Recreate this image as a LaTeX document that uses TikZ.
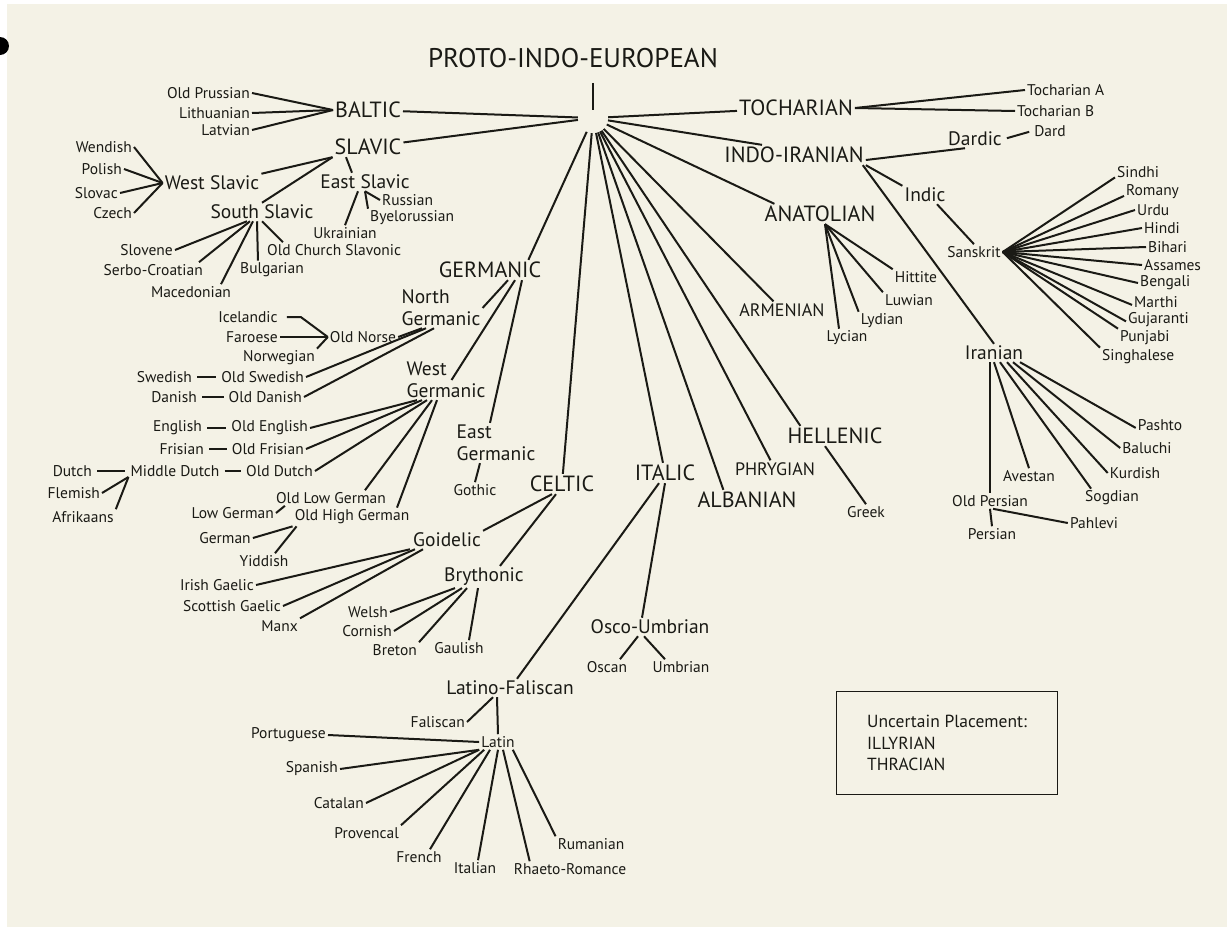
\documentclass[tikz,border=0pt]{standalone}
\usepackage{fontspec}
\setmainfont{PT Sans}
\definecolor{paper}{RGB}{244,242,230}
\definecolor{ink}{RGB}{26,26,21}

\begin{document}
\begin{tikzpicture}[x=1pt,y=-1pt,
 every node/.style={inner sep=2pt,text=ink},
 langlbl/.style={font=\fontsize{15.5}{21.5}\selectfont},
 sublbl/.style={font=\fontsize{19.5}{22}\selectfont,align=left},
 famlbl/.style={font=\fontsize{22}{24}\selectfont},
 minorlbl/.style={font=\fontsize{18}{20}\selectfont},
 branchline/.style={draw=ink,line width=2pt},
 dashlink/.style={branchline,shorten <=3pt,shorten >=3pt}]
 \useasboundingbox (0,0) rectangle (1227,927);
 \fill[paper] (0,0) rectangle (1227,927);
 \fill[white] (0,0) rectangle (7,927);
 \fill[white] (0,0) rectangle (1227,4);
 \fill[black] (0,46) circle (9);

 \node[font=\fontsize{27}{30}\selectfont] (pietitle) at (573,58) {PROTO-INDO-EUROPEAN};
 \node[circle,minimum size=30pt,inner sep=0pt] (pie) at (593,118) {};
 \draw[branchline,shorten <=13pt,shorten >=-7pt] (pie |- pietitle.south) -- (pie.north);

 \node[famlbl] (baltic) at (368,110) {BALTIC};
 \node[famlbl] (slavic) at (368,147) {SLAVIC};
 \node[famlbl] (tochar) at (796,108) {TOCHARIAN};
 \node[famlbl] (indoir) at (794,155) {INDO-IRANIAN};
 \node[famlbl] (anatol) at (820,214) {ANATOLIAN};
 \node[minorlbl] (armen) at (782,310) {ARMENIAN};
 \node[famlbl] (hellen) at (835,436) {HELLENIC};
 \node[minorlbl] (phryg) at (775,469) {PHRYGIAN};
 \node[famlbl] (alban) at (747,500) {ALBANIAN};
 \node[famlbl] (italic) at (665,473) {ITALIC};
 \node[famlbl] (celtic) at (562,484) {CELTIC};
 \node[famlbl] (german) at (490,270) {GERMANIC};

 \foreach \fam in {baltic,slavic,tochar,armen,phryg,italic,celtic}
  \draw[branchline] (pie) -- (\fam);
 \draw[branchline] (pie) -- ([xshift=-32pt]indoir.north);
 \draw[branchline] (pie) -- ([xshift=12pt]anatol.north west);
 \draw[branchline] (pie) -- ([xshift=15pt]hellen.north west);
 \draw[branchline] (pie) -- ([xshift=28pt]alban.north west);
 \draw[branchline] (pie) -- ([xshift=-15pt]german.north east);

 % baltic and slavic
 \node[langlbl,anchor=east] (oldpruss) at (252,93) {Old Prussian};
 \node[langlbl,anchor=east] (lithuan) at (252,113) {Lithuanian};
 \node[langlbl,anchor=east] (latvian) at (252,130) {Latvian};
 \foreach \lang in {oldpruss,lithuan,latvian}
  \draw[branchline] (\lang.east) -- (baltic.west);

 \node[sublbl] (westsl) at (212,183) {West Slavic};
 \node[sublbl] (eastsl) at (365,182) {East Slavic};
 \node[sublbl] (southsl) at (262,212) {South Slavic};
 \draw[branchline] (slavic.south west) -- (westsl.north east);
 \draw[branchline] (slavic.south west) -- (southsl.north);
 \draw[branchline] ([xshift=-22pt]slavic.south) -- ([xshift=-13pt]eastsl.north);

 \node[langlbl,anchor=east] (wendish) at (134,147) {Wendish};
 \node[langlbl,anchor=east] (polish) at (124,169) {Polish};
 \node[langlbl,anchor=east] (slovac) at (120,193) {Slovac};
 \node[langlbl,anchor=east] (czech) at (134,213) {Czech};
 \foreach \lang in {wendish,polish,slovac,czech}
  \draw[branchline] (\lang.east) -- (westsl.west);

 \node[langlbl,anchor=west] (russian) at (380,200) {Russian};
 \node[langlbl,anchor=west] (byelor) at (368,218) {Byelorussian};
 \node[langlbl] (ukrain) at (345,233) {Ukrainian};
 \draw[branchline] (eastsl.south) -- (russian.west);
 \draw[branchline] (eastsl.south) -- (byelor.north west);
 \draw[branchline] ([xshift=-7pt]eastsl.south) -- (ukrain.north);

 \node[langlbl,anchor=east] (slovene) at (175,250) {Slovene};
 \node[langlbl,anchor=east] (serbo) at (205,270) {Serbo-Croatian};
 \node[langlbl] (maced) at (191,292) {Macedonian};
 \node[langlbl,anchor=west] (bulg) at (238,270) {Bulgarian};
 \node[langlbl,anchor=west] (ocs) at (265,250) {Old Church Slavonic};
 \draw[branchline] ([xshift=-15pt]southsl.south) -- (slovene.east);
 \draw[branchline] ([xshift=-12pt]southsl.south) -- ([xshift=-6pt]serbo.north east);
 \draw[branchline] ([xshift=-9pt]southsl.south) -- ([xshift=30pt]maced.north);
 \draw[branchline] ([xshift=-5pt]southsl.south) -- ([xshift=-14pt]bulg.north);
 \draw[branchline] (southsl.south) -- ([xshift=18pt]ocs.north west);

 % germanic
 \node[sublbl] (northg) at (441,308) {North\\Germanic};
 \node[sublbl] (westg) at (446,380) {West\\Germanic};
 \node[sublbl] (eastg) at (496,443) {East\\Germanic};
 \node[langlbl] (gothic) at (475,490) {Gothic};
 \draw[branchline] ([xshift=18pt]german.south) -- (northg.east);
 \draw[branchline] ([xshift=25pt]german.south) -- ([xshift=-36pt]westg.east);
 \draw[branchline] ([xshift=32pt]german.south) -- ([xshift=-6pt]eastg.north);
 \draw[branchline] ([xshift=-16pt]eastg.south) -- (gothic.north);

 \node[langlbl] (onorse) at (363,337) {Old Norse};
 \node[langlbl] (ice) at (248,317) {Icelandic};
 \node[langlbl] (faroe) at (252,337) {Faroese};
 \node[langlbl] (norw) at (279,358) {Norwegian};
 \node[langlbl,anchor=east] (swed) at (194,377) {Swedish};
 \node[langlbl,anchor=east] (oswed) at (306,377) {Old Swedish};
 \node[langlbl,anchor=east] (dan) at (199,397) {Danish};
 \node[langlbl,anchor=east] (odan) at (304,397) {Old Danish};
 \draw[branchline] ([xshift=-19pt]northg.south) -- (onorse.east);
 \draw[branchline] ([xshift=-15pt]northg.south) -- (oswed.east);
 \draw[branchline] ([xshift=-7pt]northg.south) -- (odan.east);
 \draw[branchline] ([xshift=7pt]ice.east) -- +(14,0) -- (onorse.west);
 \draw[branchline] (faroe.east) -- (onorse.west);
 \draw[branchline] (norw.north east) -- (onorse.west);
 \draw[dashlink] (swed) -- (oswed);
 \draw[dashlink] (dan) -- (odan);

 \node[langlbl,anchor=east] (eng) at (204,428) {English};
 \node[langlbl,anchor=east] (oeng) at (310,428) {Old English};
 \node[langlbl,anchor=east] (fris) at (206,449) {Frisian};
 \node[langlbl,anchor=east] (ofris) at (306,449) {Old Frisian};
 \node[langlbl,anchor=east] (dutch) at (94,471) {Dutch};
 \node[langlbl] (mdutch) at (175,471) {Middle Dutch};
 \node[langlbl,anchor=east] (odutch) at (315,471) {Old Dutch};
 \node[langlbl,anchor=east] (flem) at (102,493) {Flemish};
 \node[langlbl] (afrik) at (83,517) {Afrikaans};
 \node[langlbl] (olg) at (331,498) {Old Low German};
 \node[langlbl,anchor=east] (lowg) at (276,513) {Low German};
 \node[langlbl] (ohg) at (352,517) {Old High German};
 \node[langlbl] (germanl) at (225,538) {German};
 \node[langlbl] (yidd) at (264,561) {Yiddish};
 \draw[branchline] ([xshift=-29pt]westg.south) -- (oeng.east);
 \draw[branchline] ([xshift=-24pt]westg.south) -- (ofris.east);
 \draw[branchline] ([xshift=-19pt]westg.south) -- (odutch.east);
 \draw[branchline] ([xshift=-14pt]westg.south) -- ([xshift=34pt]olg.north);
 \draw[branchline] ([xshift=-9pt]westg.south) -- ([xshift=45pt]ohg.north);
 \draw[dashlink] (eng) -- (oeng);
 \draw[dashlink] (fris) -- (ofris);
 \draw[dashlink] (mdutch) -- (odutch);
 \draw[dashlink] (dutch.east) -- (mdutch.west);
 \draw[branchline] (flem.east) -- ([yshift=-6pt]mdutch.west);
 \draw[branchline] (afrik.north east) -- ([yshift=-6pt]mdutch.west);
 \draw[branchline] (lowg.east) -- ([xshift=11pt]olg.south west);
 \draw[branchline] (ohg.south west) -- (germanl.east);
 \draw[branchline] ([xshift=4pt]ohg.south west) -- ([xshift=11pt]yidd.north);

 % celtic
 \node[sublbl] (goid) at (447,540) {Goidelic};
 \node[sublbl] (bryth) at (484,577) {Brythonic};
 \draw[branchline] ([xshift=-10pt]celtic.south) -- (goid.north east);
 \draw[branchline] ([xshift=-6pt]celtic.south) -- ([xshift=16pt]bryth.north);
 \node[langlbl,anchor=east] (irish) at (256,585) {Irish Gaelic};
 \node[langlbl,anchor=east] (scot) at (283,606) {Scottish Gaelic};
 \node[langlbl,anchor=east] (manx) at (300,626) {Manx};
 \draw[branchline] ([xshift=-37pt]goid.south) -- (irish.east);
 \draw[branchline] ([xshift=-32pt]goid.south) -- (scot.east);
 \draw[branchline] ([xshift=-24pt]goid.south) -- (manx.north east);
 \node[langlbl,anchor=east] (welsh) at (390,612) {Welsh};
 \node[langlbl,anchor=east] (cornish) at (394,631) {Cornish};
 \node[langlbl,anchor=east] (breton) at (419,650) {Breton};
 \node[langlbl] (gaulish) at (459,648) {Gaulish};
 \draw[branchline] ([xshift=-29pt]bryth.south) -- (welsh.east);
 \draw[branchline] ([xshift=-22pt]bryth.south) -- (cornish.east);
 \draw[branchline] ([xshift=-17pt]bryth.south) -- (breton.north east);
 \draw[branchline] ([xshift=-6pt]bryth.south) -- ([xshift=10pt]gaulish.north);

 % italic
 \node[sublbl] (latfal) at (510,688) {Latino-Faliscan};
 \node[sublbl] (oscumb) at (650,627) {Osco-Umbrian};
 \draw[branchline] ([xshift=-6pt]italic.south) -- ([xshift=7pt]latfal.north);
 \draw[branchline] (italic.south) -- ([xshift=-8pt]oscumb.north);
 \node[langlbl] (oscan) at (607,667) {Oscan};
 \node[langlbl] (umbr) at (681,667) {Umbrian};
 \draw[branchline] ([xshift=-12pt]oscumb.south) -- ([xshift=13pt]oscan.north);
 \draw[branchline] ([xshift=-6pt]oscumb.south) -- ([xshift=-16pt]umbr.north);
 \node[langlbl,anchor=east] (falis) at (467,722) {Faliscan};
 \node[langlbl] (latin) at (498,742) {Latin};
 \draw[branchline] ([xshift=-17pt]latfal.south) -- (falis.east);
 \draw[branchline] ([xshift=-13pt]latfal.south) -- (latin.north);
 \node[langlbl,anchor=east] (port) at (328,735) {Portuguese};
 \node[langlbl,anchor=east] (spanish) at (340,769) {Spanish};
 \node[langlbl,anchor=east] (catalan) at (366,803) {Catalan};
 \node[langlbl,anchor=east] (provenc) at (401,833) {Provencal};
 \node[langlbl] (french) at (419,857) {French};
 \node[langlbl] (italian) at (475,868) {Italian};
 \node[langlbl] (rhaeto) at (570,869) {Rhaeto-Romance};
 \node[langlbl] (rumanian) at (591,844) {Rumanian};
 \draw[branchline] (port.east) -- (latin.west);
 \draw[branchline] (spanish.east) -- (latin.south west);
 \draw[branchline] (catalan.east) -- (latin.south west);
 \draw[branchline] (provenc.north east) -- ([xshift=5pt]latin.south west);
 \draw[branchline] ([xshift=11pt]french.north) -- ([xshift=-8pt]latin.south);
 \draw[branchline] ([xshift=3pt]italian.north) -- (latin.south);
 \draw[branchline] ([xshift=18pt]rhaeto.north west) -- ([xshift=5pt]latin.south);
 \draw[branchline] (rumanian.north west) -- ([xshift=-4pt]latin.south east);

 % tocharian, anatolian, hellenic
 \node[langlbl,anchor=west] (tochA) at (1025,90) {Tocharian A};
 \node[langlbl,anchor=west] (tochB) at (1015,111) {Tocharian B};
 \draw[branchline] (tochar.east) -- (tochA.west);
 \draw[branchline] (tochar.east) -- (tochB.west);
 \node[langlbl] (hittite) at (916,277) {Hittite};
 \node[langlbl] (luwian) at (909,300) {Luwian};
 \node[langlbl] (lydian) at (882,321) {Lydian};
 \node[langlbl] (lycian) at (847,338) {Lycian};
 \draw[branchline] ([xshift=5pt]anatol.south) -- (hittite.north west);
 \draw[branchline] ([xshift=5pt]anatol.south) -- (luwian.north west);
 \draw[branchline] ([xshift=5pt]anatol.south) -- (lydian.north west);
 \draw[branchline] ([xshift=5pt]anatol.south) -- ([xshift=-8pt]lycian.north);
 \node[langlbl] (greek) at (866,512) {Greek};
 \draw[branchline] ([xshift=-10pt]hellen.south) -- (greek.north);

 % indo-iranian
 \node[sublbl] (dardic) at (975,139) {Dardic};
 \node[langlbl] (dard) at (1050,131) {Dard};
 \node[sublbl] (indic) at (925,195) {Indic};
 \node[sublbl] (iranian) at (994,353) {Iranian};
 \node[langlbl] (sanskrit) at (974,252) {Sanskrit};
 \draw[branchline] ([yshift=-5pt]indoir.east) -- ([xshift=-10pt]dardic.south);
 \draw[dashlink] (dardic.east) -- (dard.west);
 \draw[branchline] (indoir.south east) -- (indic.north west);
 \draw[branchline] ([xshift=-3pt]indoir.south east) -- (iranian.north);
 \draw[branchline] ([xshift=12pt]indic.south) -- (sanskrit.north);

 \node[langlbl,anchor=west] (sindhi) at (1115,172) {Sindhi};
 \node[langlbl,anchor=west] (romany) at (1124,192) {Romany};
 \node[langlbl,anchor=west] (urdu) at (1135,210) {Urdu};
 \node[langlbl,anchor=west] (hindi) at (1142,228) {Hindi};
 \node[langlbl,anchor=west] (bihari) at (1146,247) {Bihari};
 \node[langlbl,anchor=west] (assames) at (1142,265) {Assames};
 \node[langlbl,anchor=west] (bengali) at (1138,283) {Bengali};
 \node[langlbl,anchor=west] (marthi) at (1132,302) {Marthi};
 \node[langlbl,anchor=west] (gujar) at (1126,320) {Gujaranti};
 \node[langlbl,anchor=west] (punjabi) at (1118,338) {Punjabi};
 \node[langlbl,anchor=west] (singhal) at (1100,357) {Singhalese};
 \foreach \lang/\anc in {sindhi/base west,romany/base west,urdu/west,hindi/west,
   bihari/west,assames/west,bengali/west,marthi/mid west,gujar/mid west,
   punjabi/north west,singhal/north west}
  \draw[branchline] (sanskrit.east) -- (\lang.\anc);

 \node[langlbl] (avestan) at (1029,476) {Avestan};
 \node[langlbl] (sogdian) at (1112,498) {Sogdian};
 \node[langlbl] (kurdish) at (1135,473) {Kurdish};
 \node[langlbl] (baluchi) at (1147,448) {Baluchi};
 \node[langlbl] (pashto) at (1160,425) {Pashto};
 \node[langlbl] (oldpers) at (990,501) {Old Persian};
 \node[langlbl] (persian) at (992,534) {Persian};
 \node[langlbl] (pahlevi) at (1094,523) {Pahlevi};
 \draw[branchline] (iranian.south -| oldpers.north) -- (oldpers.north);
 \draw[branchline] (iranian.south) -- (avestan.north);
 \draw[branchline] ([xshift=6pt]iranian.south) -- ([xshift=8pt]sogdian.north west);
 \draw[branchline] ([xshift=13pt]iranian.south) -- (kurdish.west);
 \draw[branchline] ([xshift=19pt]iranian.south) -- (baluchi.west);
 \draw[branchline] ([xshift=26pt]iranian.south) -- (pashto.mid west);
 \draw[branchline] (oldpers.south) -- (persian.north);
 \draw[branchline] ([xshift=3pt]oldpers.south) -- (pahlevi.west);

 \node[draw=ink,line width=1.8pt,font=\fontsize{17.5}{21.5}\selectfont,align=left,
  minimum width=221pt,minimum height=103pt] (uncertain) at (947,743)
  {Uncertain Placement:\\ILLYRIAN\\THRACIAN};
\end{tikzpicture}
\end{document}
